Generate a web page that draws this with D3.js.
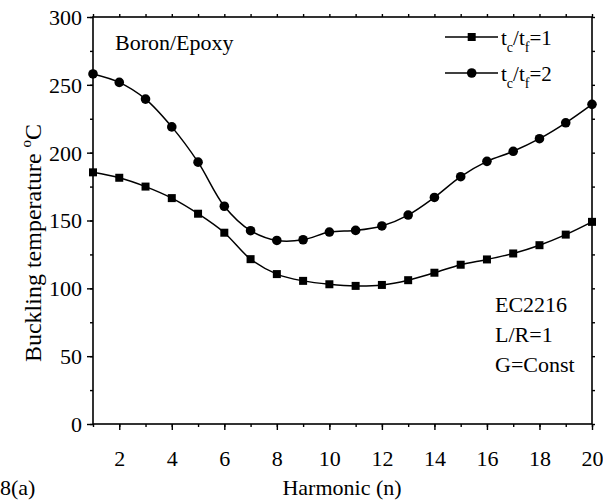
<!DOCTYPE html>
<html><head><meta charset="utf-8">
<script src="https://cdn.jsdelivr.net/npm/d3@7"></script>
<style>
body{margin:0;background:#fff}
svg text{font-family:"Liberation Serif","Times New Roman","DejaVu Serif",serif;}
</style>
</head><body><svg id="c" width="603" height="501"></svg>
<script>
const harmonics = [1,2,3,4,5,6,7,8,9,10,11,12,13,14,15,16,17,18,19,20];
const ratio1 = [185.5,181.5,175,166.5,155,141,121.5,110.5,105.5,103,101.8,102.5,106,111.5,117.4,121.3,125.7,131.8,139.6,149];
const ratio2 = [258,251.8,239.5,219,193,160.5,142.5,135.3,135.8,141.5,142.7,146,154,167,182.3,193.6,201,210.3,222,235.6];
const xTicks = [2,4,6,8,10,12,14,16,18,20];
const yTicks = [0,50,100,150,200,250,300];
const seriesNames = ["1","2"];
const notes = ["EC2216","L/R=1","G=Const"];

const svg = d3.select("#c");
const L=93,R=592,T=17,B=424;
const x = d3.scaleLinear().domain([1,20]).range([L,R]);
const y = d3.scaleLinear().domain([0,300]).range([B,T]);
const FS = 22;

svg.append("rect").attr("x",L).attr("y",T).attr("width",R-L).attr("height",B-T)
  .attr("fill","none").attr("stroke","#000").attr("stroke-width",1.6);

const minorX = d3.range(1,21);
const gB = svg.append("g").attr("transform",`translate(0,${B})`);
gB.call(d3.axisBottom(x).tickValues(minorX).tickSize(3).tickFormat(""));
gB.select(".domain").remove();
const gB2 = svg.append("g").attr("transform",`translate(0,${B})`);
gB2.call(d3.axisBottom(x).tickValues(xTicks).tickSize(6).tickFormat(d3.format("d")));
gB2.select(".domain").remove();
gB2.selectAll("text").attr("dy","0").attr("y",42);
const gT = svg.append("g").attr("transform",`translate(0,${T})`);
gT.call(d3.axisTop(x).tickValues(minorX).tickSize(3).tickFormat(""));
gT.select(".domain").remove();

const minorY = d3.range(0,301,25);
const gL = svg.append("g").attr("transform",`translate(${L},0)`);
gL.call(d3.axisLeft(y).tickValues(minorY).tickSize(3).tickFormat(""));
gL.select(".domain").remove();
const gL2 = svg.append("g").attr("transform",`translate(${L},0)`);
gL2.call(d3.axisLeft(y).tickValues(yTicks).tickSize(6).tickPadding(5).tickFormat(d3.format("d")));
gL2.select(".domain").remove();
gL2.selectAll("text").attr("dy","0.34em");
const gR = svg.append("g").attr("transform",`translate(${R},0)`);
gR.call(d3.axisRight(y).tickValues(minorY).tickSize(3).tickFormat(""));
gR.select(".domain").remove();
svg.selectAll("g").attr("font-size",FS).attr("font-family",null);
svg.selectAll(".tick line").attr("stroke","#000").attr("stroke-width",1.4);

const line = d3.line().x((d,i)=>x(harmonics[i])).y(d=>y(d)).curve(d3.curveCatmullRom.alpha(0.5));
[ratio1,ratio2].forEach(s=>{
  svg.append("path").attr("d",line(s)).attr("fill","none").attr("stroke","#000").attr("stroke-width",1.5);
});
svg.append("g").selectAll("rect").data(ratio1).join("rect")
  .attr("x",(d,i)=>x(harmonics[i])-4).attr("y",d=>y(d)-4).attr("width",8).attr("height",8).attr("fill","#000");
svg.append("g").selectAll("circle").data(ratio2).join("circle")
  .attr("cx",(d,i)=>x(harmonics[i])).attr("cy",d=>y(d)).attr("r",4.8).attr("fill","#000");

function txt(sel){ return sel.append("text").attr("fill","#000"); }

const legY=[37,73];
seriesNames.forEach((n,i)=>{
  const g = svg.append("g");
  g.append("line").attr("x1",445).attr("x2",498).attr("y1",legY[i]).attr("y2",legY[i]).attr("stroke","#000").attr("stroke-width",1.5);
  if(i===0) g.append("rect").attr("x",467.7).attr("y",legY[i]-4).attr("width",8).attr("height",8);
  else g.append("circle").attr("cx",471.7).attr("cy",legY[i]).attr("r",4.8);
  const t = txt(g).attr("x",501).attr("y",legY[i]+8).attr("font-size",21);
  t.append("tspan").text("t");
  t.append("tspan").attr("font-size",14).attr("dy",7).text("c");
  t.append("tspan").attr("dy",-7).text("/t");
  t.append("tspan").attr("font-size",14).attr("dy",7).text("f");
  t.append("tspan").attr("dy",-7).text("="+n);
});

txt(svg).attr("x",115).attr("y",50).attr("font-size",FS).text("Boron/Epoxy");
notes.forEach((n,i)=>txt(svg).attr("x",495).attr("y",312+i*30).attr("font-size",FS).text(n));

txt(svg).attr("x",342).attr("y",495).attr("text-anchor","middle").attr("font-size",22).text("Harmonic (n)");
txt(svg).attr("x",0).attr("y",495).attr("font-size",22).text("8(a)");
const yt = txt(svg).attr("transform","translate(41,243) rotate(-90)").attr("text-anchor","middle").attr("font-size",24);
yt.append("tspan").text("Buckling temperature ");
yt.append("tspan").attr("font-size",15).attr("dy",-10).text("o");
yt.append("tspan").attr("dy",10).text("C");
</script></body></html>
